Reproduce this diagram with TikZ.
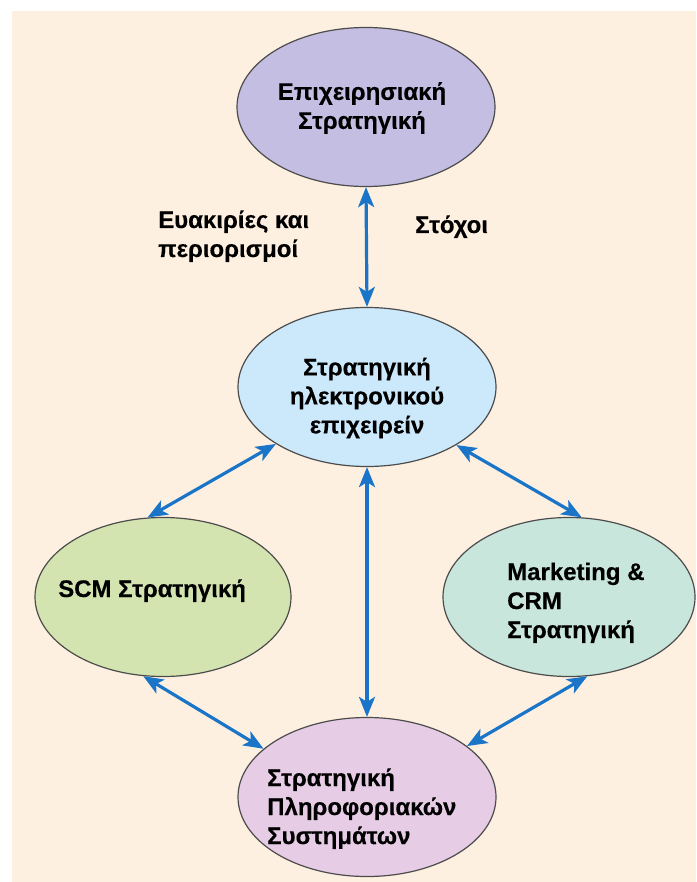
\documentclass[tikz,border=0pt]{standalone}
\usepackage{fontspec}
\setmainfont[FakeBold=0.3]{Liberation Sans}
\usetikzlibrary{shapes.geometric,arrows.meta}
\definecolor{paper}{RGB}{253,240,224}
\definecolor{linkblue}{RGB}{26,117,200}
\definecolor{fillTop}{RGB}{197,190,227}
\definecolor{fillMid}{RGB}{204,233,251}
\definecolor{fillScm}{RGB}{211,228,176}
\definecolor{fillCrm}{RGB}{200,230,220}
\definecolor{fillIs}{RGB}{230,204,229}
\tikzset{
  oval/.style={ellipse, draw=black!70, line width=1.2pt, inner sep=0pt,
    minimum width=258pt, minimum height=159pt},
  txt/.style={inner sep=0pt, font=\fontsize{24}{29}\selectfont\bfseries, text=black},
  link/.style={line width=3.2pt, draw=linkblue,
    {Stealth[length=20pt,width=16pt,inset=5pt]}-{Stealth[length=20pt,width=16pt,inset=5pt]}}
}
\begin{document}
\begin{tikzpicture}[x=1pt,y=-1pt]
  % page and paper background
  \fill[white] (0,0) rectangle (696,882);
  \fill[paper] (12,11) rectangle (696,882);
  \useasboundingbox (0,0) rectangle (696,882);

  % strategy ovals
  \node[oval, fill=fillTop] (biz) at (366,107) {};
  \node[oval, fill=fillMid] (ebiz) at (367,387) {};
  \node[oval, fill=fillScm, minimum width=256pt] (scm) at (163,597) {};
  \node[oval, fill=fillCrm, minimum width=252pt] (crm) at (569,597) {};
  \node[oval, fill=fillIs] (is) at (367,797) {};

  % texts in the ovals (base anchor = last line)
  \node[txt, align=center] (bizT) at (362,108) {Επιχειρησιακή\\Στρατηγική};
  \node[txt, align=center] (ebizT) at (367,398) {Στρατηγική\\ηλεκτρονικού\\επιχειρείν};
  \node[txt, anchor=base west] (scmT) at (58,597) {SCM Στρατηγική};
  \node[txt, align=left, anchor=base west] (crmT) at (507,638) {Marketing \&\\CRM\\Στρατηγική};
  \node[txt, align=left, anchor=base west] (isT) at (267,844) {Στρατηγική\\Πληροφοριακών\\Συστημάτων};

  % labels beside the top link
  \node[txt, align=left, anchor=base west] (oppT) at (158,257) {Ευακιρίες και\\περιορισμοί};
  \node[txt, anchor=base west] (goalT) at (415,233) {Στόχοι};

  % links
  \draw[link] (biz.south) -- (ebiz.north);
  \draw[link] (ebiz.south) -- (is.north);
  \draw[link] (ebiz.212) -- (scm.101);
  \draw[link] (ebiz.327) -- (crm.81);
  \draw[link] (scm.256) -- (is.155);
  \draw[link] (crm.283) -- (is.27);
\end{tikzpicture}
\end{document}
